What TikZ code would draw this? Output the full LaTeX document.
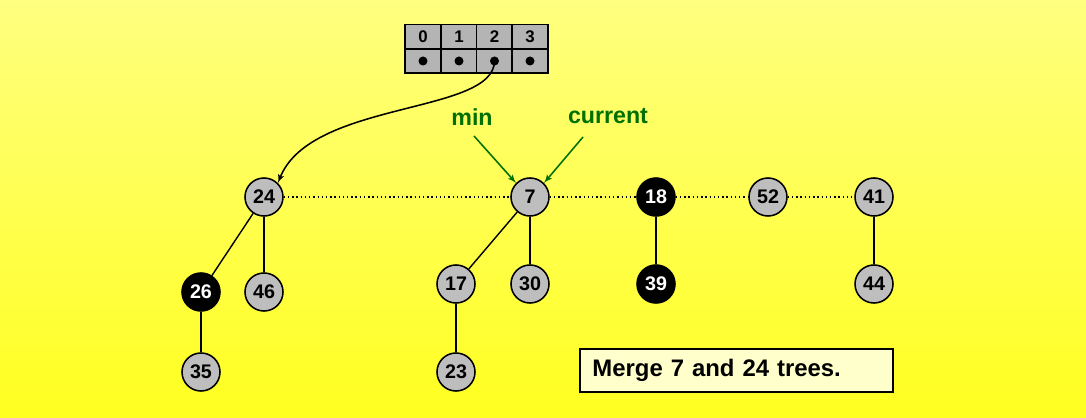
\documentclass[tikz,border=0pt]{standalone}
\usepackage{fontspec}
\setmainfont{Liberation Sans}
\usetikzlibrary{positioning,arrows}

\definecolor{bgtop}{RGB}{255,255,128}
\definecolor{bgbot}{RGB}{255,255,32}
\definecolor{keygray}{RGB}{190,190,190}
\definecolor{markgreen}{RGB}{0,112,0}
\definecolor{notebg}{RGB}{255,255,204}

\begin{document}
\begin{tikzpicture}[x=0.025cm,y=-0.025cm]
		\tikzset{key/.style = {shape=circle,draw,line width=1.1pt,fill=keygray,minimum size=0.95cm,inner sep=0pt,font=\fontsize{14}{15}\selectfont\bfseries}}
		\tikzset{blackkey/.style = {key,fill=black,text=white}}
		\tikzset{cell/.style = {draw,line width=1pt,fill=keygray!95!black,minimum width=0.894cm,minimum height=0.6cm,inner sep=0pt,font=\fontsize{12}{13}\selectfont\bfseries}}
		\tikzset{edge/.style = {line width=1pt}}
		\tikzset{ptr/.style = {->,> = latex',line width=1.1pt}}
		\tikzset{gptr/.style = {->,> = latex',line width=1.1pt,draw=markgreen}}
		\tikzset{glabel/.style = {text=markgreen,font=\fontsize{16.5}{18}\selectfont\bfseries}}

		% background
		\shade[top color=bgtop,bottom color=bgbot] (0,0) rectangle (1086,418);
		\useasboundingbox (0,0) rectangle (1086,418);

		% array
		\node[cell] (h0) at (423,36.5){0};
		\node[cell] (h1) at (459,36.5){1};
		\node[cell] (h2) at (494.5,36.5){2};
		\node[cell] (h3) at (530,36.5){3};
		\node[cell] (a0) at (423,61){};
		\node[cell] (a1) at (459,61){};
		\node[cell] (a2) at (494.5,61){};
		\node[cell] (a3) at (530,61){};
		\foreach \i in {0,...,3}
			\fill (a\i.center) circle (4.5);

		% roots
		\node[key] (k24) at (264,197){24};
		\node[key] (k7) at (530,197){7};
		\node[blackkey] (k18) at (656,197){18};
		\node[key] (k52) at (768,197){52};
		\node[key] (k41) at (874,197){41};

		% children
		\node[blackkey] (k26) at (201,292){26};
		\node[key] (k46) at (264,292){46};
		\node[key] (k35) at (201,372){35};
		\node[key] (k17) at (456,284){17};
		\node[key] (k30) at (530,284){30};
		\node[key] (k23) at (456,372){23};
		\node[blackkey] (k39) at (656,284){39};
		\node[key] (k44) at (874,284){44};

		% root list
		\draw[dotted,line width=1pt] (k24) -- (k7) -- (k18) -- (k52) -- (k41);

		% tree edges
		\draw[edge] (k24) -- (k26);
		\draw[edge] (k24) -- (k46);
		\draw[edge] (k26) -- (k35);
		\draw[edge] (k7) -- (k17);
		\draw[edge] (k7) -- (k30);
		\draw[edge] (k17) -- (k23);
		\draw[edge] (k18) -- (k39);
		\draw[edge] (k41) -- (k44);

		% pointer from array
		\draw[ptr] (a2.center) .. controls (494,115) and (310,100) .. (k24.north east);

		% min, current
		\node[glabel] (min) at (472,117){min};
		\node[glabel] (cur) at (608,116){current};
		\draw[gptr] (474,136) -- (k7.north west);
		\draw[gptr] (583,137) -- (k7.north east);

		% note
		\node[draw,line width=1.1pt,fill=notebg,minimum width=7.825cm,minimum height=1.075cm,inner sep=0pt,text width=7.2cm,align=left,font=\fontsize{17}{18}\selectfont\bfseries] (note) at (736.5,370.5){Merge 7 and 24 trees.};
	\end{tikzpicture}
\end{document}
